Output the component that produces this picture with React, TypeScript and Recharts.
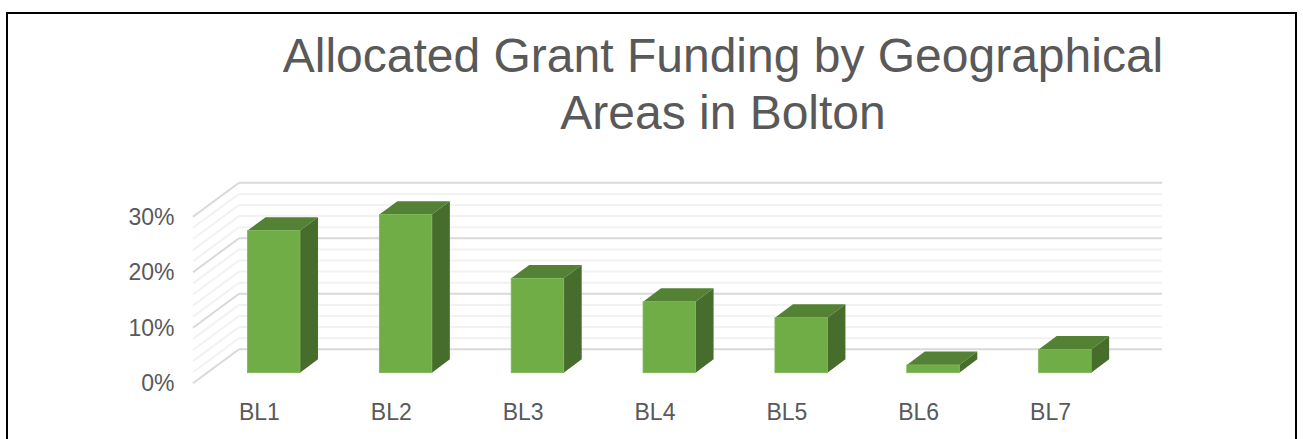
import React from "react";
import { BarChart, Bar, XAxis, YAxis, CartesianGrid } from "recharts";

const categories = ["BL1", "BL2", "BL3", "BL4", "BL5", "BL6", "BL7"];
const shares = [25.6, 28.5, 17, 12.8, 9.9, 1.4, 4.2];
const yTicks = [0, 10, 20, 30];
const gridValues = [0, 2, 4, 6, 8, 10, 12, 14, 16, 18, 20, 22, 24, 26, 28, 30];
const titleLines = ["Allocated Grant Funding by Geographical", "Areas in Bolton"];

const data = categories.map((name, i) => ({ name, value: shares[i] }));

const FONT = '"Liberation Sans", Arial, sans-serif';
const TEXT = "#595959";
const FRONT = "#70AD47";
const TOP = "#548235";
const SIDE = "#476D2D";
const BAR_DX = 18;
const BAR_DY = -13.4;
const WALL_DX = 31.5;
const WALL_DY = -23.4;
const FLOOR_DX = -46;
const FLOOR_DY = 34;

const Box = (props: any) => {
  const { x, y, width, height } = props;
  const r = x + width;
  const b = y + height;
  return (
    <g>
      <polygon
        points={`${x},${y} ${r},${y} ${r + BAR_DX},${y + BAR_DY} ${x + BAR_DX},${y + BAR_DY}`}
        fill={TOP}
      />
      <polygon
        points={`${r},${y} ${r + BAR_DX},${y + BAR_DY} ${r + BAR_DX},${b + BAR_DY} ${r},${b}`}
        fill={SIDE}
      />
      <rect x={x} y={y} width={width} height={height} fill={FRONT} stroke="#7CB556" strokeWidth={0.8} />
    </g>
  );
};

function isMajorY(y: number, props: any) {
  const top = props.offset?.top ?? props.top;
  const h = props.offset?.height ?? props.height;
  if (top === undefined || h === undefined) return false;
  const v = ((top + h - y) / h) * 30;
  return yTicks.some((t) => Math.abs(t - v) < 0.5);
}

const GridLine = (props: any) => {
  const { x1, x2, y1 } = props;
  const color = isMajorY(y1, props) ? "#D9D9D9" : "#F2F2F2";
  const bx1 = x1 + WALL_DX;
  const bx2 = x2 + WALL_DX;
  const by = y1 + WALL_DY;
  return (
    <g>
      <line x1={bx1} y1={by} x2={bx2} y2={by} stroke={color} strokeWidth={2} />
      <line x1={bx1} y1={by} x2={bx1 + FLOOR_DX} y2={by + FLOOR_DY} stroke={color} strokeWidth={2} />
    </g>
  );
};

const YTick = (props: any) => {
  const { x, y, payload } = props;
  return (
    <text x={x - 27} y={y + 18.6} textAnchor="end" fontFamily={FONT} fontSize={23} fill={TEXT}>
      {`${payload.value}%`}
    </text>
  );
};

const XTick = (props: any) => {
  const { x, y, payload } = props;
  return (
    <text x={x - 14} y={y + 39} textAnchor="middle" fontFamily={FONT} fontSize={23} fill={TEXT}>
      {payload.value}
    </text>
  );
};

export default function App() {
  return (
    <div style={{ position: "absolute", left: 0, top: 0, width: 1303, height: 439, background: "#fff", overflow: "hidden" }}>
      <div
        style={{
          position: "absolute",
          left: 6,
          top: 12,
          width: 1287,
          height: 440,
          border: "2px solid #000",
        }}
      />
      <div
        style={{
          position: "absolute",
          left: 223,
          top: 28,
          width: 1000,
          textAlign: "center",
          fontFamily: FONT,
          fontSize: 48,
          lineHeight: "56.5px",
          color: TEXT,
        }}
      >
        {titleLines.map((l) => (
          <div key={l}>{l}</div>
        ))}
      </div>
      <div style={{ position: "absolute", left: 0, top: 0 }}>
        <BarChart
          width={1303}
          height={439}
          data={data}
          margin={{ top: 206.2, right: 172.5, bottom: 26.3, left: 137.5 }}
        >
          <CartesianGrid
            vertical={false}
            horizontal={(p: any) => <GridLine key={p.index} {...p} />}
            horizontalValues={gridValues}
          />
          <XAxis dataKey="name" axisLine={false} tickLine={false} height={40} tick={<XTick />} interval={0} />
          <YAxis
            domain={[0, 30]}
            ticks={yTicks}
            axisLine={false}
            tickLine={false}
            width={70}
            tick={<YTick />}
            interval={0}
            tickMargin={0}
          />
          <Bar dataKey="value" barSize={52.5} isAnimationActive={false} shape={<Box />} />
        </BarChart>
      </div>
    </div>
  );
}
